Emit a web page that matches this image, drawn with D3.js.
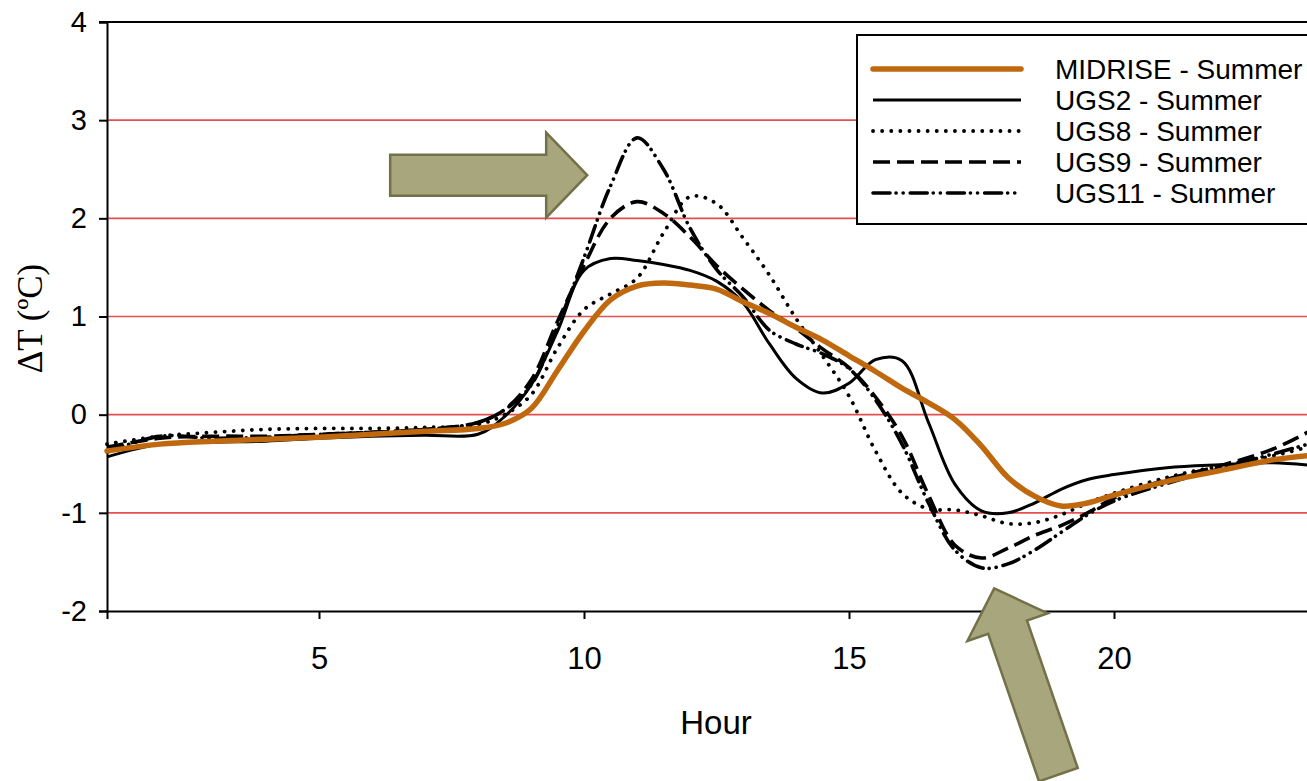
<!DOCTYPE html>
<html>
<head>
<meta charset="utf-8">
<script src="https://cdn.jsdelivr.net/npm/d3@7"></script>
<style>
  body { margin: 0; background: #fff; }
  svg { display: block; }
</style>
</head>
<body>
<svg id="chart" width="1307" height="781"></svg>
<script>
// Hour of day (denser sampling through the daytime swing)
const hours = [1, 2, 3, 4, 5, 6, 7, 8,
  8.5, 9, 9.5, 10, 10.5, 11, 11.5, 12, 12.5, 13, 13.5, 14, 14.5, 15, 15.5, 16,
  16.5, 17, 17.5, 18, 18.5, 19, 19.5, 20,
  21, 22, 23, 24];

// Temperature difference ΔT (°C) per scenario
const midrise = [-0.37, -0.30, -0.27, -0.25, -0.23, -0.20, -0.17, -0.14,
  -0.09, 0.06, 0.45, 0.85, 1.17, 1.31, 1.34, 1.32, 1.28, 1.15, 1.03, 0.89, 0.76, 0.60, 0.44, 0.27,
  0.12, -0.05, -0.32, -0.64, -0.83, -0.93, -0.90, -0.82,
  -0.68, -0.57, -0.46, -0.40];
const ugs2 = [-0.43, -0.30, -0.28, -0.27, -0.24, -0.22, -0.21, -0.20,
  -0.02, 0.30, 0.85, 1.47, 1.59, 1.57, 1.53, 1.47, 1.36, 1.14, 0.72, 0.37, 0.22, 0.32, 0.56, 0.55,
  -0.08, -0.71, -0.98, -1.00, -0.90, -0.76, -0.66, -0.61,
  -0.54, -0.51, -0.49, -0.53];
const ugs8 = [-0.30, -0.22, -0.18, -0.15, -0.14, -0.14, -0.13, -0.10,
  0.00, 0.20, 0.68, 1.07, 1.23, 1.39, 1.85, 2.22, 2.15, 1.80, 1.42, 0.98, 0.60, 0.19, -0.37, -0.80,
  -0.96, -0.97, -1.03, -1.11, -1.10, -1.02, -0.90, -0.80,
  -0.64, -0.52, -0.42, -0.28];
const ugs9 = [-0.33, -0.24, -0.22, -0.22, -0.20, -0.18, -0.15, -0.08,
  0.05, 0.35, 0.95, 1.52, 2.00, 2.17, 2.05, 1.81, 1.52, 1.28, 1.06, 0.88, 0.67, 0.48, 0.18, -0.22,
  -0.82, -1.33, -1.46, -1.36, -1.23, -1.13, -1.00, -0.85,
  -0.66, -0.52, -0.35, -0.08];
const ugs11 = [-0.38, -0.22, -0.24, -0.23, -0.20, -0.18, -0.15, -0.08,
  0.05, 0.30, 0.90, 1.60, 2.33, 2.82, 2.50, 1.90, 1.48, 1.20, 0.86, 0.72, 0.62, 0.47, 0.15, -0.30,
  -0.90, -1.38, -1.56, -1.52, -1.38, -1.20, -1.02, -0.88,
  -0.70, -0.55, -0.40, -0.25];

const seriesLabels = ["MIDRISE - Summer", "UGS2 - Summer", "UGS8 - Summer", "UGS9 - Summer", "UGS11 - Summer"];
const seriesValues = [midrise, ugs2, ugs8, ugs9, ugs11];

const xTickValues = [5, 10, 15, 20];
const yTickValues = [-2, -1, 0, 1, 2, 3, 4];
const gridValues = [-1, 0, 1, 2, 3];

// Callout arrows: tip position in data units, direction in degrees
const arrowTips = [
  { hour: 10.06, value: 2.44, angle: 0 },
  { hour: 17.74, value: -1.77, angle: -109 }
];

// Line appearance per series (same order as seriesLabels)
const lineStyles = [
  { stroke: "#bf680e", width: 5.5, dash: null, cap: "round" },
  { stroke: "#000", width: 3, dash: null, cap: "butt" },
  { stroke: "#000", width: 3.8, dash: "0.1 9", cap: "round" },
  { stroke: "#000", width: 3.6, dash: "17 7", cap: "butt" },
  { stroke: "#000", width: 3.6, dash: "17 6 0.1 7 0.1 7", cap: "round" }
];

const W = 1307, H = 781;
const svg = d3.select("#chart");

const x = d3.scaleLinear().domain([1, 24]).range([107, 1326]);
const y = d3.scaleLinear().domain([-2, 4]).range([611, 22]);

const sans = "'Liberation Sans', Arial, sans-serif";

// Horizontal reference lines
svg.append("g")
  .selectAll("line")
  .data(gridValues)
  .join("line")
  .attr("x1", x(1)).attr("x2", W)
  .attr("y1", d => y(d)).attr("y2", d => y(d))
  .attr("stroke", "#e4504f")
  .attr("stroke-width", 1.6);

// Top frame line
svg.append("line")
  .attr("x1", x(1) - 8).attr("x2", W)
  .attr("y1", y(4)).attr("y2", y(4))
  .attr("stroke", "#000").attr("stroke-width", 2);

// Y axis
const yAxis = svg.append("g")
  .attr("transform", `translate(${x(1)},0)`)
  .call(d3.axisLeft(y).tickValues(yTickValues).tickSizeOuter(0).tickSize(8).tickPadding(12)
    .tickFormat(d => String(d)));
yAxis.select(".domain").attr("stroke", "#000").attr("stroke-width", 2);
yAxis.selectAll(".tick line").attr("stroke", "#000").attr("stroke-width", 2);
yAxis.selectAll(".tick text")
  .attr("fill", "#000")
  .style("font-family", sans)
  .style("font-size", "29px");

// X axis
const xAxis = svg.append("g")
  .attr("transform", `translate(0,${y(-2)})`)
  .call(d3.axisBottom(x).tickValues(xTickValues).tickSizeOuter(0).tickSize(8).tickPadding(28)
    .tickFormat(d => String(d)));
xAxis.select(".domain").attr("stroke", "#000").attr("stroke-width", 2);
xAxis.selectAll(".tick line").attr("stroke", "#000").attr("stroke-width", 2);
xAxis.selectAll(".tick text")
  .attr("fill", "#000")
  .style("font-family", sans)
  .style("font-size", "31px");

// Axis titles
svg.append("text")
  .attr("x", 716).attr("y", 734)
  .attr("text-anchor", "middle")
  .style("font-family", sans)
  .style("font-size", "33px")
  .text("Hour");

svg.append("text")
  .attr("transform", `translate(42,${y(1) + 2}) rotate(-90)`)
  .attr("text-anchor", "middle")
  .style("font-family", "'Liberation Serif', 'Times New Roman', serif")
  .style("font-size", "35px")
  .text("ΔT (ºC)");

// Series lines
const line = d3.line()
  .x((d, i) => x(hours[i]))
  .y(d => y(d))
  .curve(d3.curveCatmullRom.alpha(0.5));

const drawOrder = [1, 2, 3, 4, 0];
svg.append("g")
  .selectAll("path")
  .data(drawOrder)
  .join("path")
  .attr("d", k => line(seriesValues[k]))
  .attr("fill", "none")
  .attr("stroke", k => lineStyles[k].stroke)
  .attr("stroke-width", k => lineStyles[k].width)
  .attr("stroke-dasharray", k => lineStyles[k].dash)
  .attr("stroke-linecap", k => lineStyles[k].cap)
  .attr("stroke-linejoin", "round");

// Legend
const legend = svg.append("g").attr("transform", "translate(857,35)");
legend.append("rect")
  .attr("x", 0).attr("y", 0)
  .attr("width", 480).attr("height", 189)
  .attr("fill", "#fff").attr("stroke", "#000").attr("stroke-width", 2);

const rows = legend.selectAll("g.row")
  .data(seriesLabels)
  .join("g")
  .attr("class", "row")
  .attr("transform", (d, i) => `translate(0,${34 + i * 31})`);
rows.append("line")
  .attr("x1", 16).attr("x2", 164)
  .attr("y1", 0).attr("y2", 0)
  .attr("stroke", (d, i) => lineStyles[i].stroke)
  .attr("stroke-width", (d, i) => lineStyles[i].width)
  .attr("stroke-dasharray", (d, i) => lineStyles[i].dash)
  .attr("stroke-linecap", (d, i) => lineStyles[i].cap);
rows.append("text")
  .attr("x", 198).attr("y", 10)
  .style("font-family", sans)
  .style("font-size", "28px")
  .text(d => d);

// Callout arrows
const arrowShape = (len, shaftHalf, headHalf, headLen) => [
  [0, 0], [-headLen, -headHalf], [-headLen, -shaftHalf], [-len, -shaftHalf],
  [-len, shaftHalf], [-headLen, shaftHalf], [-headLen, headHalf]
];
const arrowPts = arrowShape(197, 20.5, 42.5, 41);
svg.append("g")
  .selectAll("polygon")
  .data(arrowTips)
  .join("polygon")
  .attr("points", arrowPts.map(p => p.join(",")).join(" "))
  .attr("transform", d => `translate(${x(d.hour)},${y(d.value)}) rotate(${d.angle})`)
  .attr("fill", "#a8a67c")
  .attr("stroke", "#727149")
  .attr("stroke-width", 2.5)
  .attr("stroke-linejoin", "miter");
</script>
</body>
</html>
